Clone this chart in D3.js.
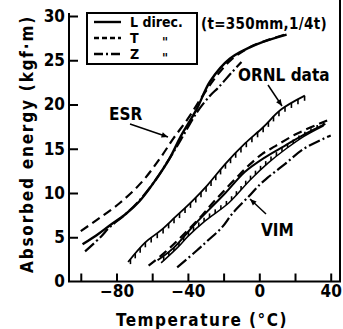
<!DOCTYPE html>
<html>
<head>
<meta charset="utf-8">
<script src="https://cdn.jsdelivr.net/npm/d3@7"></script>
<style>
  html, body { margin: 0; padding: 0; background: #fff; }
  svg { display: block; }
  text { font-family: "DejaVu Sans Condensed", "DejaVu Sans", sans-serif; fill: #000; font-weight: bold; }
</style>
</head>
<body>
<svg id="chart" width="343" height="329"></svg>
<script>
// values: [temperature °C, absorbed energy kgf·m]
const esrL = [[-99,4.2],[-90,5.4],[-84,6.3],[-75,7.6],[-67,9.1],[-58,11.5],[-50,14.0],[-44,16.4],[-35,19.5],[-27.6,22.6],[-16.4,25.2],[-1.5,26.8],[15.3,27.9]];
const esrT = [[-100,5.7],[-90,7.1],[-78,8.9],[-66,11.2],[-56,13.8],[-48,16.2],[-40,18.4],[-32,20.9],[-24,23.2],[-16,25.0],[-6,26.4],[5,27.3],[16,28.0]];
const esrZ = [[-97.6,3.4],[-89,5.0],[-84,6.1],[-75,7.6],[-67,9.2],[-58,11.5],[-50,14.0],[-44,16.0],[-35,19.1],[-27.6,21.0],[-23,21.9],[-16,23.5],[-10,24.8]];

const ornl = [[-73.5,2.2],[-64,4.4],[-55,5.8],[-47,7.3],[-38,9.0],[-29,10.9],[-19,13.3],[-8,15.6],[2,17.4],[12,19.4],[25.5,21.0]];

const vimT = [[-62,1.8],[-54,3.1],[-45,4.8],[-32,7.5],[-26,8.9],[-20,10.2],[-12,11.9],[-6,13.1],[1.5,14.4],[9,15.3],[21,16.7],[38,18.2]];
const vimL = [[-57,2.4],[-48,3.8],[-36,6.5],[-19,10.0],[-8,12.4],[3,14.0],[14,15.3],[25,16.6],[37,17.8]];
const vimBand = [[-55,2.1],[-45,4.0],[-40,5.1],[-30,6.9],[-17,8.9],[-5,11.5],[5,13.4],[15,15.0],[25,16.4],[36,17.6]];
const vimZ = [[-46,1.6],[-35,3.5],[-29,4.6],[-21,6.1],[-15,7.7],[-5,9.8],[0.5,11.0],[4.5,11.7],[14.5,13.3],[25,15.0],[40,16.5]];

const xTicks = [-100, -80, -60, -40, -20, 0, 20, 40];
const xLabels = [-80, -40, 0, 40];
const yTicks = [0, 5, 10, 15, 20, 25, 30];

const svg = d3.select('#chart');
const plotLeft = 69, plotRight = 340, plotTop = 16, plotBottom = 281.5;

const x = d3.scaleLinear().domain([-106.6, 45.2]).range([plotLeft, plotRight]);
const y = d3.scaleLinear().domain([0, 30]).range([plotBottom, plotTop]);

const line = d3.line()
  .x(d => x(d[0]))
  .y(d => y(d[1]))
  .curve(d3.curveCatmullRom.alpha(0.5));

// axes
const xAxis = d3.axisBottom(x)
  .tickValues(xTicks)
  .tickSize(-8)
  .tickPadding(3)
  .tickFormat(d => xLabels.includes(d) ? String(d).replace('-', '\u2212') : '');

const yAxis = d3.axisLeft(y)
  .tickValues(yTicks)
  .tickSize(-9)
  .tickPadding(4);

const gx = svg.append('g').attr('transform', `translate(0,${plotBottom})`).call(xAxis);
const gy = svg.append('g').attr('transform', `translate(${plotLeft},0)`).call(yAxis);

[gx, gy].forEach(g => {
  g.select('.domain').remove();
  g.selectAll('.tick line').attr('stroke', '#000').attr('stroke-width', 2);
  g.selectAll('.tick text')
    .attr('font-size', 17)
    .attr('font-weight', 'bold')
    .attr('font-family', '"DejaVu Sans Condensed", sans-serif')
    .attr('fill', '#000');
});
gy.selectAll('.tick').filter(d => d === 0).select('line').remove();

// frame: left, bottom, right
svg.append('path')
  .attr('d', `M${plotLeft},${plotTop - 3}V${plotBottom}H${plotRight}V${plotTop - 16}`)
  .attr('fill', 'none')
  .attr('stroke', '#000')
  .attr('stroke-width', 2);

const styles = {
  L: null,
  T: '9,5',
  Z: '12,3,2,3'
};

function drawCurve(data, dash, width) {
  return svg.append('path')
    .datum(data)
    .attr('d', line)
    .attr('fill', 'none')
    .attr('stroke', '#000')
    .attr('stroke-width', width || 2.2)
    .attr('stroke-dasharray', dash);
}

// hatch ticks along a path, dir = +1 down, -1 up
function hatch(path, step, len, dir) {
  const node = path.node();
  const total = node.getTotalLength();
  for (let s = step / 2; s < total; s += step) {
    const p = node.getPointAtLength(s);
    svg.append('line')
      .attr('x1', p.x).attr('y1', p.y)
      .attr('x2', p.x).attr('y2', p.y + dir * len)
      .attr('stroke', '#000')
      .attr('stroke-width', 1.6);
  }
}

drawCurve(esrT, styles.T);
drawCurve(esrZ, styles.Z);
drawCurve(esrL, styles.L, 2.4);

const ornlPath = drawCurve(ornl, null, 1.8);
hatch(ornlPath, 7.5, 5, 1);

drawCurve(vimT, styles.T);
drawCurve(vimL, styles.L, 2);
const bandPath = drawCurve(vimBand, null, 1.5);
hatch(bandPath, 7, 4, -1);
drawCurve(vimZ, styles.Z);

// axis titles
svg.append('text')
  .attr('x', 202).attr('y', 326)
  .attr('text-anchor', 'middle')
  .attr('font-size', 17)
  .attr('letter-spacing', 1.5)
  .text('Temperature (°C)');

svg.append('text')
  .attr('transform', 'translate(33,144) rotate(-90)')
  .attr('text-anchor', 'middle')
  .attr('font-size', 17)
  .attr('letter-spacing', 1.8)
  .text('Absorbed  energy (kgf·m)');

// legend
svg.append('rect')
  .attr('x', 87).attr('y', 13).attr('width', 110).attr('height', 51)
  .attr('fill', '#fff').attr('stroke', '#000').attr('stroke-width', 2);

const legendRows = [
  { label: 'L direc.', mark: '', dash: styles.L, y: 22 },
  { label: 'T', mark: '"', dash: '5,3', y: 38 },
  { label: 'Z', mark: '"', dash: '9,3,2,3', y: 54 }
];

legendRows.forEach(r => {
  svg.append('line')
    .attr('x1', 94).attr('x2', 121)
    .attr('y1', r.y).attr('y2', r.y)
    .attr('stroke', '#000').attr('stroke-width', 2.4)
    .attr('stroke-dasharray', r.dash);
  svg.append('text')
    .attr('x', 130).attr('y', r.y + 5)
    .attr('font-size', 14)
    .text(r.label);
  if (r.mark) {
    svg.append('text')
      .attr('x', 162).attr('y', r.y + 8)
      .attr('font-size', 13)
      .attr('font-family', '"DejaVu Sans", sans-serif')
      .text(r.mark);
  }
});

svg.append('text')
  .attr('x', 201).attr('y', 29)
  .attr('font-size', 15)
  .attr('font-weight', 'normal')
  .attr('letter-spacing', 0.3)
  .text('(t=350mm,1/4t)');

// annotations
function annotate(label, tx, ty, x1, y1, x2, y2) {
  svg.append('text')
    .attr('x', tx).attr('y', ty)
    .attr('font-size', 17)
    .text(label);
  svg.append('line')
    .attr('x1', x1).attr('y1', y1).attr('x2', x2).attr('y2', y2)
    .attr('stroke', '#000').attr('stroke-width', 1.5);
  const a = Math.atan2(y2 - y1, x2 - x1);
  const h = 7, w = 0.4;
  svg.append('path')
    .attr('d', `M${x2},${y2}L${x2 - h * Math.cos(a - w)},${y2 - h * Math.sin(a - w)}L${x2 - h * Math.cos(a + w)},${y2 - h * Math.sin(a + w)}Z`)
    .attr('fill', '#000');
}

annotate('ESR', 109, 120, 130, 124, 168, 137);
annotate('ORNL data', 238, 81, 268, 85, 282, 106);
annotate('VIM', 261, 236, 266, 214, 250, 199);
</script>
</body>
</html>
